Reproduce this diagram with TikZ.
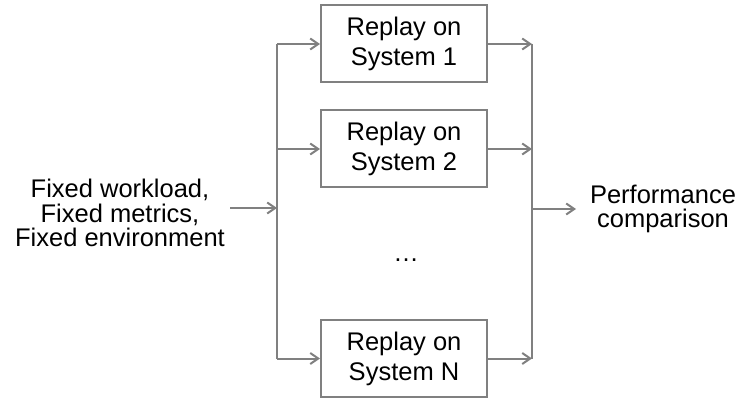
\documentclass[tikz,border=0pt]{standalone}
\usepackage{fontspec}
\setmainfont{Liberation Sans}
\usetikzlibrary{arrows.meta}
\definecolor{linegray}{RGB}{128,128,128}
\begin{document}
\begin{tikzpicture}[x=1pt,y=-1pt,
  link/.style={draw=linegray,line width=2pt},
  arr/.style={link,-{Straight Barb[length=8pt,width=11pt,line width=2pt]}},
  sysbox/.style={draw=linegray,line width=2pt,minimum width=166pt,minimum height=77pt,
    inner sep=0pt,align=center,font=\fontsize{25.5}{30}\selectfont},
  label/.style={align=center,inner sep=0pt,font=\fontsize{25.5}{24.5}\selectfont}]
\useasboundingbox (0,0) rectangle (739,398);
% replay boxes
\node[sysbox] (s1) at (404,44) {Replay on\\System 1};
\node[sysbox] (s2) at (404,149) {Replay on\\System 2};
\node[sysbox] (sn) at (404,358.5) {Replay on\\System N};
\node[inner sep=0pt,font=\fontsize{25.5}{30}\selectfont] (dots) at (406,260) {\ldots};
% input and output labels
\node[label] (in) at (120,213) {Fixed workload,\\Fixed metrics,\\Fixed environment};
\node[label] (out) at (663,209) {Performance\\comparison};
% fan-out bus
\coordinate (lsplit) at (277,208);
\coordinate (ltop) at (277,44);
\coordinate (lbot) at (277,358.5);
\draw[arr] (230,208) -- (lsplit);
\draw[link] (ltop) -- (lbot);
\draw[arr] (ltop) -- (s1.west);
\draw[arr] (ltop |- s2.west) -- (s2.west);
\draw[arr] (lbot) -- (sn.west);
% fan-in bus
\coordinate (rtop) at (532,44);
\coordinate (rbot) at (532,358.5);
\coordinate (rmid) at (532,209);
\draw[link] (rtop) -- (rbot);
\draw[arr] (s1.east) -- (rtop);
\draw[arr] (s2.east) -- (rtop |- s2.east);
\draw[arr] (sn.east) -- (rbot);
\draw[arr] (rmid) -- (576,209);
\end{tikzpicture}
\end{document}
